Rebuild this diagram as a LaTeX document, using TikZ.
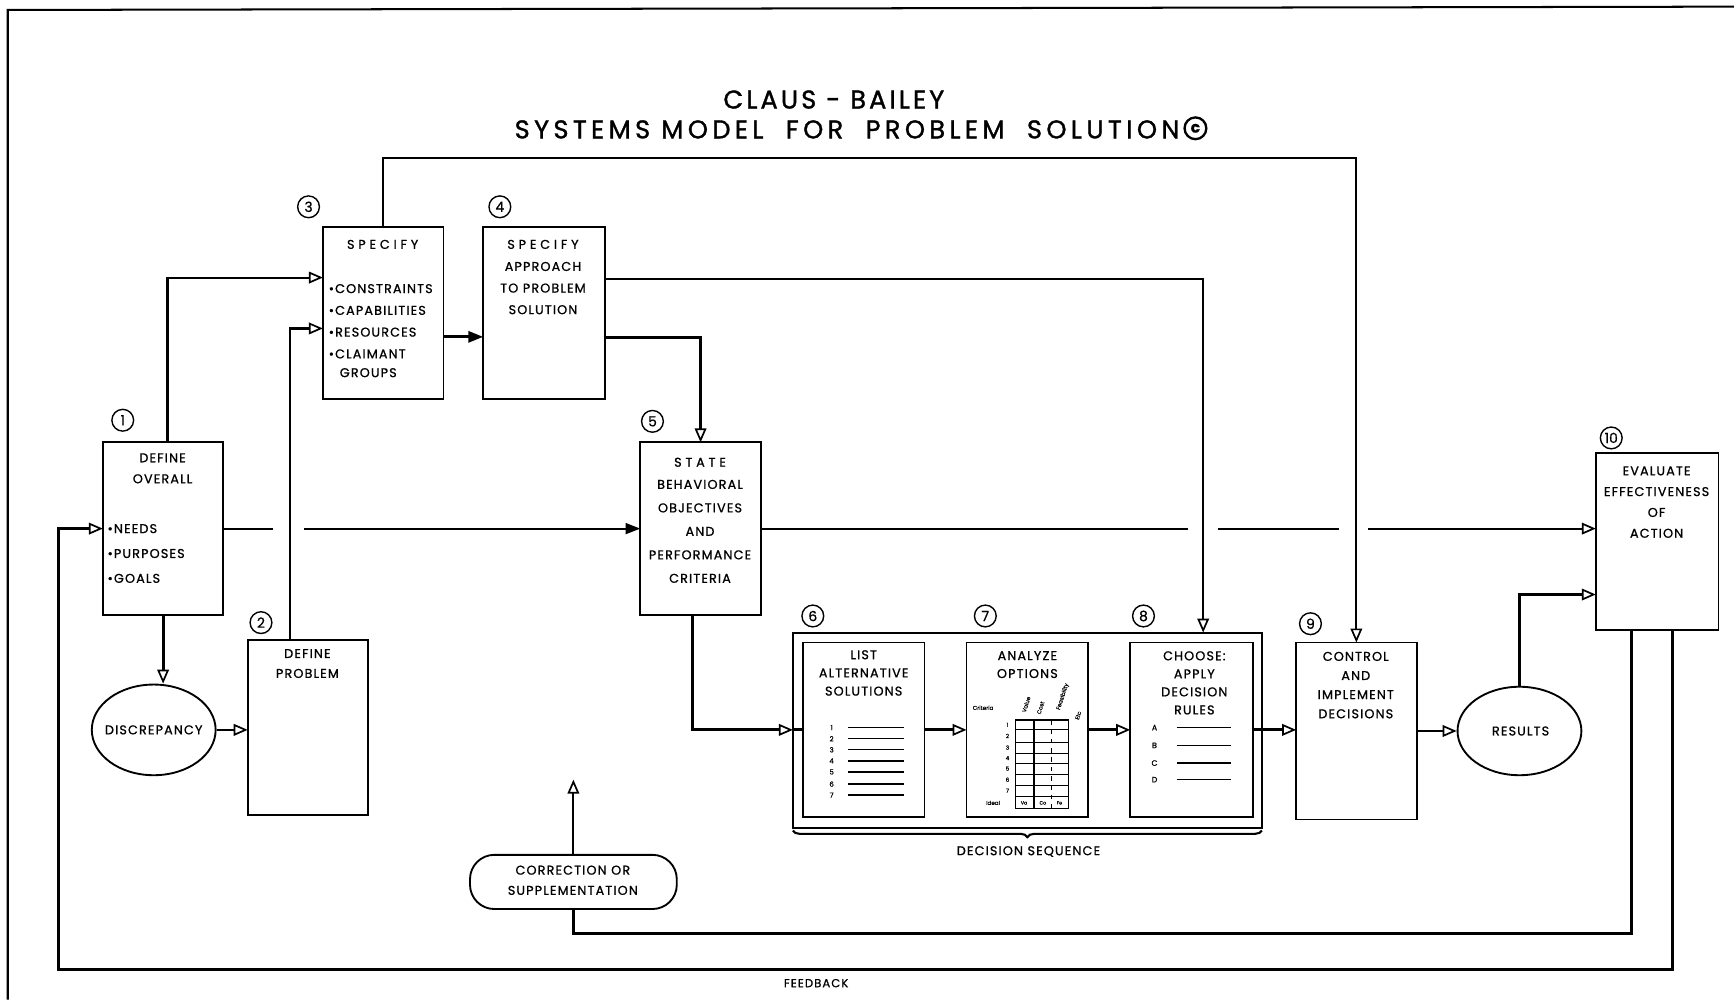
\documentclass[tikz,border=0pt]{standalone}
\usepackage{fontspec}
\setmainfont{Poppins}
\newfontfamily\fut[LetterSpace=9,FakeBold=0.9]{Poppins}
\newfontfamily\futsp[LetterSpace=30,FakeBold=0.9]{Poppins}
\newfontfamily\futti[LetterSpace=12,FakeBold=1.3]{Poppins}
\newfontfamily\futtii[LetterSpace=17,FakeBold=1.3]{Poppins}
\newfontfamily\futpl[FakeBold=0.6]{Poppins}
\usetikzlibrary{arrows.meta,shapes.geometric,decorations.pathreplacing}
\tikzset{
  bx/.style 2 args={draw, line width=1.2pt, inner sep=0pt, outer sep=0pt, anchor=north west,
    minimum width=#1*0.25mm, minimum height=#2*0.25mm},
  tx/.style={inner sep=0pt, align=center, font=\fut\fontsize{8.2}{#1}\selectfont},
  tx/.default=10pt,
  sp/.style={inner sep=0pt, font=\futsp\fontsize{8.2}{10}\selectfont},
  num/.style={draw, circle, line width=0.9pt, minimum size=14pt, inner sep=0pt,
    font=\futpl\fontsize{9}{9}\selectfont},
  tiny/.style={inner sep=0pt, font=\futpl\fontsize{3.6}{4}\selectfont},
  ln/.style={line width=1.35pt},
  thk/.style={line width=1.9pt},
  arr/.style={-{Triangle[open,length=9pt,width=7.5pt,line width=1.1pt]}},
  arrF/.style={-{Triangle[length=9.5pt,width=7pt]}},
}
\begin{document}
\begin{tikzpicture}[x=0.25mm,y=-0.25mm]
\useasboundingbox (0,0) rectangle (1568,904);
% page frame
\draw[line width=1.3pt] (7,904) -- (7,9) -- (1568,6);

% title
\node[inner sep=0pt, font=\futti\fontsize{16.5}{18}\selectfont] (t1) at (754,90) {CLAUS - BAILEY};
\node[inner sep=0pt, font=\futtii\fontsize{16.5}{18}\selectfont] (t2) at (766,117) {SYSTEMS MODEL\ \ FOR\ \ PROBLEM\ \ SOLUTION};
\node[draw, circle, line width=1.5pt, minimum size=14pt, inner sep=0pt, font=\futpl\bfseries\fontsize{10}{10}\selectfont] (cpy) at (1081,116) {c};

% boxes
\node[bx={109}{156}] (b1) at (93,400) {};
\node[bx={109}{158}] (b2) at (224,579) {};
\node[bx={109}{156}] (b3) at (292,205) {};
\node[bx={110}{156}] (b4) at (437,205) {};
\node[bx={109}{156}] (b5) at (579,400) {};
\node[bx={424}{177}] (dec) at (717,572) {};
\node[bx={110}{158}] (b6) at (726,581) {};
\node[bx={110}{158}] (b7) at (874,581) {};
\node[bx={111}{158}] (b8) at (1022,581) {};
\node[bx={109}{160}] (b9) at (1172,581) {};
\node[bx={111}{160}] (b10) at (1443,410) {};
\node[draw, ellipse, line width=1.2pt, minimum width=112*0.25mm, minimum height=82*0.25mm, inner sep=0pt] (disc) at (139,660) {};
\node[draw, ellipse, line width=1.2pt, minimum width=112*0.25mm, minimum height=80*0.25mm, inner sep=0pt] (res) at (1374,661) {};
\node[draw, rounded corners=5.5mm, line width=1.2pt, minimum width=187*0.25mm, minimum height=49*0.25mm, inner sep=0pt] (corr) at (518.5,797.5) {};

% texts
\node[tx=13.5pt] (tb1a) at (147,423.5) {DEFINE\\OVERALL};
\node[tx=16pt, align=left, anchor=west] (tb1b) at (97,500.5) {•NEEDS\\•PURPOSES\\•GOALS};
\node[tx=12.8pt] (tb2) at (278,600) {DEFINE\\PROBLEM};
\node[sp] (tb3a) at (346,221) {SPECIFY};
\node[tx=14pt, align=left, anchor=west] (tb3b) at (297,290.5) {•CONSTRAINTS\\•CAPABILITIES\\•RESOURCES\\•CLAIMANT};
\node[tx, anchor=west] (tb3c) at (307,337) {GROUPS};
\node[sp] (tb4a) at (491,221) {SPECIFY};
\node[tx=13.9pt] (tb4b) at (491,260.5) {APPROACH\\TO PROBLEM\\SOLUTION};
\node[sp] (tb5a) at (633,418) {STATE};
\node[tx=15.1pt] (tb5b) at (633,480.5) {BEHAVIORAL\\OBJECTIVES\\AND\\PERFORMANCE\\CRITERIA};
\node[tx=11.7pt] (tb6) at (781,608.5) {LIST\\ALTERNATIVE\\SOLUTIONS};
\node[tx=11.5pt] (tb7) at (929,601) {ANALYZE\\OPTIONS};
\node[tx=11.6pt] (tb8) at (1080,617.5) {CHOOSE:\\APPLY\\DECISION\\RULES};
\node[tx=12.3pt] (tb9) at (1226,619.5) {CONTROL\\AND\\IMPLEMENT\\DECISIONS};
\node[tx=13.4pt] (tb10) at (1498,454) {EVALUATE\\EFFECTIVENESS\\OF\\ACTION};
\node[tx] (tdisc) at (139,660) {DISCREPANCY};
\node[tx] (tres) at (1375,661) {RESULTS};
\node[tx=13pt] (tcorr) at (518,796) {CORRECTION OR\\SUPPLEMENTATION};
\node[inner sep=0pt, font=\fut\fontsize{7.5}{9}\selectfont] (tfb) at (738,889) {FEEDBACK};
\node[tx] (tds) at (930,770) {DECISION SEQUENCE};

% step numbers
\node[num] (n1) at (111,380) {1};
\node[num] (n2) at (236,563) {2};
\node[num] (n3) at (279,187) {3};
\node[num] (n4) at (452,187) {4};
\node[num] (n5) at (590,381) {5};
\node[num] (n6) at (735,557) {6};
\node[num] (n7) at (891,557) {7};
\node[num] (n8) at (1034,557) {8};
\node[num] (n9) at (1185,564) {9};
\node[num] (n10) at (1457,396) {10};

% horizontal main lines (with crossing gaps)
\draw[ln, arrF] (b1.east) -- (b1.east -| b5.west);
\draw[ln, arr] (b5.east) -- (b5.east -| b10.west);
\fill[white] (247,470) rectangle (275,486);
\fill[white] (1074,470) rectangle (1101,486);
\fill[white] (1211,470) rectangle (1237,486);

% connectors
\coordinate (c88) at (1088,560);
\coordinate (qc) at (518.5,844);
\coordinate (cup) at (518.5,705);
\coordinate (fbl) at (53,877);
\draw[ln, arr] (b3.north) -- ++(0,-62) -| (b9.north);
\draw[ln, arr] ([yshift=7.75mm]b4.east) -| (dec.north -| c88);
\draw[thk, arr] ([yshift=-5.5mm]b4.east) -| (b5.north);
\draw[thk, arrF] ([yshift=-5.4mm]b3.east) -- ([yshift=-5.4mm]b4.west);
\draw[ln, arr] ([xshift=1mm]b1.north) |- ([yshift=8mm]b3.west);
\draw[ln, arr] ([xshift=-4.1mm]b2.north) |- ([yshift=-3.5mm]b3.west);
\draw[thk, arr] (b1.south) -- (b1.south |- disc.north);
\draw[ln, arr] (disc.east) -- (disc.east -| b2.west);
\draw[thk, arr] ([xshift=-1.9mm]b5.south) |- (b6.west -| dec.west);
\draw[thk] (b6.west -| dec.west) -- (b6.west);
\draw[thk, arr] (b6.east) -- (b7.west);
\draw[thk, arr] (b7.east) -- (b8.west);
\draw[thk, arr] (b8.east) -- (b8.east -| b9.west);
\draw[thk, arr] (b9.east) -- (b9.east -| res.west);
\draw[thk, arr] (res.north) |- ([yshift=-11.9mm]b10.west);
\draw[thk] ([xshift=-5.9mm]b10.south) |- (qc) -- (corr.south);
\draw[ln, arr] (corr.north) -- (cup);
\draw[thk, arr] ([xshift=3.4mm]b10.south) |- (fbl) |- (b1.west);

% brace under decision sequence
\draw[ln, decorate, decoration={brace, amplitude=1.5mm, aspect=0.5}] ([yshift=-0.5mm]dec.south east) -- ([yshift=-0.5mm]dec.south west);

% box 6 list
\foreach \i/\yy in {1/658,2/668,3/678,4/688,5/698,6/709,7/719} {
  \node[inner sep=0pt, font=\futpl\fontsize{4.5}{5}\selectfont] (l6-\i) at (752,\yy) {\i};
  \draw[line width=0.9pt] (767,\yy) -- (817,\yy);
}
% box 8 rules
\foreach \i/\l/\yy in {1/A/658,2/B/674,3/C/690,4/D/705} {
  \node[inner sep=0pt, font=\futpl\fontsize{5}{6}\selectfont] (l8-\i) at (1044,\yy) {\l};
  \draw[line width=0.9pt] (1064,\yy) -- (1113,\yy);
}
% box 7 grid
\draw[line width=0.8pt] (918,651) rectangle (966,731);
\foreach \yy in {660,671,681,690,700,710,720} \draw[line width=0.7pt] (918,\yy) -- (966,\yy);
\draw[line width=0.8pt] (935,651) -- (935,731);
\draw[line width=0.7pt, dashed] (951,651) -- (951,731);
\foreach \i/\yy in {1/655.5,2/665.5,3/676,4/685.5,5/695,6/705,7/715} {
  \node[tiny] (l7-\i) at (911,\yy) {\i};
}
\node[tiny] (crit) at (889,640) {Criteria};
\node[tiny] (ideal) at (898,726) {Ideal};
\node[tiny, rotate=72] (hv) at (928,637) {Value};
\node[tiny, rotate=72] (hc) at (941,640) {Cost};
\node[tiny, rotate=72] (hf) at (961,630) {Feasibility};
\node[tiny, rotate=72] (he) at (975,647) {Etc};
\node[inner sep=0pt, font=\futpl\fontsize{3}{3}\selectfont] (iv) at (926,726) {Va};
\node[inner sep=0pt, font=\futpl\fontsize{3}{3}\selectfont] (ic) at (943,726) {Co};
\node[inner sep=0pt, font=\futpl\fontsize{3}{3}\selectfont] (if) at (958,726) {Fe};
\end{tikzpicture}
\end{document}
